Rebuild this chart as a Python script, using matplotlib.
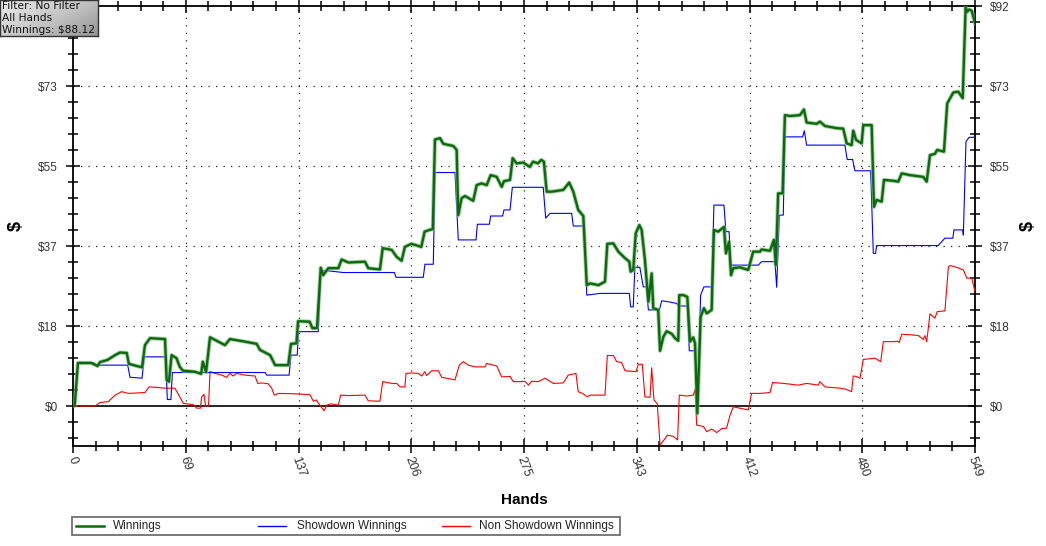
import matplotlib
matplotlib.use('Agg')
import matplotlib.pyplot as plt
import numpy as np
from matplotlib.ticker import FixedLocator
from matplotlib.lines import Line2D
from matplotlib.patches import Rectangle

# (hand, $)
winnings = [
    (0, 0), (1, 0), (3, 9.9), (11, 9.9), (15, 9.2), (16.5, 10.1), (21, 10.6), (25.6, 11.7),
    (28.6, 12.3), (32.7, 12.2), (34, 9.7), (38.8, 9.2), (42, 8.9), (43.8, 14), (46.9, 15.6),
    (56, 15.4), (57, 6), (58.4, 5.6), (60, 11.7), (63, 11), (65, 9), (67, 8.1), (74, 7.9),
    (78, 7.4), (79, 10.2), (81, 7.8), (83.4, 15.8), (86.4, 15.2), (92.5, 14), (95.5, 15.4),
    (98.6, 15.2), (104.7, 14.8), (111.8, 14.3), (113.8, 12.9), (120, 11.7), (123, 9.4),
    (131, 9.4), (132.7, 14.3), (136, 14.4), (137, 19.5), (144, 19.4), (145.7, 17.9),
    (148.5, 17.9), (150.8, 31.8), (152.3, 30.1), (155.4, 31.7), (161.5, 31.7), (163.5, 33.7),
    (167.6, 33), (177.7, 33.2), (179.7, 31.7), (186.8, 31.4), (188.5, 36.3), (194, 35.9),
    (197, 34.3), (200, 33.4), (202, 36.6), (206, 37.3), (212, 36.6), (214, 40.1), (217, 40.5),
    (219, 40.7), (220.3, 61.3), (223.4, 61.6), (225.4, 60.3), (231.5, 59.8), (233.5, 58.9),
    (234.5, 43.9), (236.5, 47.8), (238.6, 48.3), (243.6, 47.2), (245.7, 50.8), (248.7, 51.2),
    (251.8, 50.8), (254.2, 53.1), (257.9, 52.7), (260.9, 50.4), (262.3, 51.7), (266, 52),
    (267.6, 57), (270, 55.8), (274, 56), (278, 55), (280, 56.2), (283, 55.8), (285, 56.6),
    (286.6, 56.2), (288.3, 49.3), (291.3, 49.3), (298.4, 49.7), (302, 51.4), (304.5, 49.3),
    (307.5, 45.1), (310.6, 43.7), (312.7, 27.8), (314.7, 28.2), (319.8, 27.8), (323.8, 28.6),
    (325.2, 37.3), (328.9, 37.4), (331.9, 35.5), (336, 34), (338.6, 33.2), (339.4, 30.9),
    (341, 31.3), (342.5, 39.7), (344.7, 41.6), (346.1, 40.5), (348.1, 33.6), (350.2, 24),
    (352.2, 30.5), (353.2, 22.5), (356.2, 22.1), (357.3, 12.7), (359.3, 15.9), (361.3, 17.2),
    (364.4, 16.6), (366.4, 15.6), (368.4, 15), (369, 25.5), (371.5, 25.5), (373.9, 25.1),
    (375.5, 14.8), (377.5, 15.8), (378.6, 14.4), (380, -1.7), (382, 20.5), (384, 22.5),
    (385.7, 21.3), (388.7, 22.1), (390.1, 40.5), (392.7, 40.1), (396.2, 41.2), (397.4, 35.1),
    (399.3, 37.8), (400.5, 30.1), (401.9, 31.7), (405.9, 31.9), (411, 31.3), (414, 35.5),
    (418.1, 35.5), (419.1, 36), (424.2, 35.7), (426.6, 38.2), (427.8, 32.4), (429.2, 48.9),
    (431.9, 48.9), (433.3, 66.9), (436.4, 66.7), (442.5, 66.9), (444.9, 68.2), (446.5, 65.2),
    (452.6, 64.9), (454.6, 65.4), (457.7, 64.4), (464.8, 63.9), (468.8, 63.8), (470.9, 60.4),
    (473.9, 60), (474.9, 63.3), (476.6, 61.2), (480, 60.4), (481, 64.6), (486.1, 64.6),
    (487.5, 45.8), (489.1, 47.4), (492.2, 47), (493.6, 52), (499.3, 51.8), (502.3, 51.6),
    (504.4, 53.5), (509.4, 53.1), (517.5, 52.7), (519.6, 51.6), (521.6, 57.7), (524.6, 58),
    (526, 58.9), (530.1, 58.5), (532.1, 69.6), (535.8, 72.1), (538.8, 72.3), (541.5, 70.8),
    (543.3, 91.7), (544.3, 90.7), (545.5, 91.2), (547, 90.9), (549, 88.1),
]

showdown = [
    (0, 0), (1, 0), (3, 10), (12, 10), (15, 9.4), (33.3, 9.4), (34.7, 6.6), (42, 6.4),
    (43.4, 11.3), (56.4, 11.3), (57.4, 1.5), (59.6, 1.5), (60.5, 7.7), (116.9, 7.7),
    (117.9, 7.1), (131.5, 7.1), (132.7, 11.7), (136.5, 11.7), (137.2, 17.1), (149.3, 17.1),
    (150.8, 31.1), (155, 31.1), (164.5, 30.7), (195.6, 30.7), (196.6, 29.6), (213.2, 29.6),
    (214.2, 32.6), (219.3, 32.6), (220.3, 53.7), (232.5, 53.7), (234.5, 38.2), (245.3, 38.2),
    (246.1, 41.8), (253.4, 41.8), (254.2, 43.7), (261.5, 43.7), (262.3, 45.1), (266, 45.1),
    (267.4, 50.3), (286.2, 50.3), (287.7, 43.2), (290.3, 44.3), (303.5, 44.3), (304.5, 41.4),
    (311.2, 41.4), (312.7, 25.5), (320.8, 25.9), (338.6, 25.9), (339.4, 22.8), (341, 22.8),
    (342, 31.9), (345, 31.9), (347.1, 27.4), (349, 27.4), (350.2, 22.1), (356.9, 22.1),
    (358.3, 24.2), (362, 24), (367.4, 23.6), (368.4, 23), (373.9, 23), (375.1, 12.7),
    (378.6, 12.7), (380, -0.9), (382, 25.5), (384, 27.4), (388.7, 27.4), (390.1, 46.2),
    (396.2, 46.2), (397.4, 40.1), (399.3, 40.1), (400.5, 32.4), (417.1, 32.4), (419.1, 33.2),
    (427.2, 33.2), (428.3, 27.3), (429.9, 43.9), (432.3, 43.9), (433.3, 61.9), (444.1, 61.9),
    (445.1, 63.3), (446.5, 60), (469.8, 60), (471.2, 56.7), (474.5, 56.7), (475.9, 54.1),
    (485.5, 54.1), (487.1, 35.1), (488.5, 35.1), (489.1, 36.9), (526.6, 36.9), (530.7, 38.6),
    (535.5, 38.6), (536.2, 40.5), (541.5, 40.5), (541.9, 39.3), (543.5, 60.8), (545.4, 61.8),
    (549, 61.8),
]

non_showdown = [
    (0, 0), (13.4, 0), (16.4, 0.8), (21.5, 1), (25.6, 2.5), (29.6, 3.3), (33.7, 2.9),
    (43.8, 3.1), (46.3, 4.4), (50, 4.3), (56, 4.1), (62, 4.1), (65, 2.1), (67.1, 0.6),
    (73.2, 0.3), (75.3, -0.5), (77.5, -0.5), (78.3, 2.1), (79.7, 2.7), (80.7, 0), (82.5, 0),
    (83.4, 7.9), (85.4, 7.6), (90.5, 7.1), (93.5, 6.6), (95.5, 7.5), (97.5, 6.9), (99.5, 7.5),
    (104.7, 7.1), (110.8, 6.9), (112.4, 5.2), (115, 5.3), (118.9, 5.1), (120.9, 4.1),
    (122.5, 2.5), (125, 2.9), (135.1, 2.8), (144.2, 2.6), (146.3, 1.1), (148, 1.4),
    (149.5, 0.6), (152.8, -1.1), (154.4, 0.2), (157, 0.5), (161.5, 0.2), (162.9, 2.5),
    (168, 2.4), (177.7, 2.5), (179.7, 1.2), (186.8, 1.1), (188.5, 5.6), (194, 5.2),
    (197, 5.2), (199, 4.4), (202, 4.4), (202.7, 7.5), (206, 7.6), (210.2, 7.5), (212.2, 6.9),
    (214.2, 7.9), (215.2, 7), (218.3, 8.1), (222.4, 8.1), (224.4, 6.6), (232.5, 6),
    (235.1, 9.4), (237.5, 10.2), (240.5, 9.4), (244.7, 9), (250.8, 9), (251.8, 9.8),
    (257.9, 9.2), (260.9, 6.7), (266, 6.8), (268, 5.6), (272, 5.6), (275, 5.7), (277.2, 4.8),
    (279.2, 5.7), (283.2, 5.6), (287.3, 6.4), (292.3, 5.2), (298.4, 5.3), (301.4, 7.1),
    (306.1, 7.5), (307.5, 3.3), (310.5, 2.8), (313, 2.1), (314.7, 2.5), (323.8, 2.5),
    (325.2, 11.6), (328.9, 11.6), (330.9, 10.2), (333.9, 10), (336, 8.1), (342.7, 7.9),
    (344.1, 9.6), (346.5, 9.6), (348.1, 2.1), (351.2, 2), (352.2, 8.8), (353.6, 1.4),
    (355.6, 0.5), (357.3, -9), (360.3, -7.5), (361.7, -6.7), (365.4, -7), (368, -7.8),
    (369, 2.5), (373.5, 2.3), (377.5, 2.5), (378.6, 3.8), (379.6, -4.4), (383.7, -4.7),
    (385.7, -5.9), (388.7, -5.3), (391.8, -6.1), (394.8, -5.2), (397.8, -5.1), (399.9, -2.1),
    (401.9, -0.2), (405.9, -0.5), (411, -0.9), (413, 2.9), (418.1, 2.9), (424.2, 3.1),
    (425.8, 5.4), (432.3, 5.2), (441.4, 4.8), (446.5, 5.2), (453.6, 4.8), (454.6, 5.6),
    (457.7, 4.4), (466.8, 4.1), (470, 3.9), (473.9, 3.3), (474.9, 6.9), (476.6, 6.8),
    (479, 6.4), (481, 10.7), (488.1, 11), (491.6, 10.2), (493.2, 14.8), (499.3, 14.8),
    (502, 14.9), (502.9, 14.6), (504.4, 16.5), (509.4, 16.4), (514.5, 16.2), (517.5, 15.3),
    (518.5, 16.2), (519.6, 14.8), (521.6, 21.2), (524.6, 20.2), (526, 21.7), (530.7, 21.9),
    (532.8, 32), (533.8, 32.3), (537, 32), (541.9, 31.3), (544, 29.4), (547, 29.4), (549, 26.3),
]

x_ticks = [0, 68.625, 137.25, 205.875, 274.5, 343.125, 411.75, 480.375, 549]
x_labels = ['0', '69', '137', '206', '275', '343', '412', '480', '549']
y_ticks = [0, 18.4, 36.8, 55.2, 73.6, 92]
y_labels = ['$0', '$18', '$37', '$55', '$73', '$92']
legend_labels = ['Winnings', 'Showdown Winnings', 'Non Showdown Winnings']
colors = ['#0b6b0b', '#0000ff', '#ff0000']
info_lines = ['Filter: No Filter', 'All Hands', 'Winnings: $88.12']

W, H = 1046, 546
fig = plt.figure(figsize=(W / 100, H / 100), dpi=100)
ax = fig.add_axes([73 / W, 100 / H, 902 / W, 440 / H])

wx, wy = zip(*winnings)
sx, sy = zip(*showdown)
nx, ny = zip(*non_showdown)

ax.axhline(0, color='black', lw=1.2, zorder=2)
ax.plot(nx, ny, color=colors[2], lw=0.8, zorder=3)
ax.plot(sx, sy, color=colors[1], lw=0.8, zorder=3)
ax.plot(wx, wy, color='#86b886', lw=3.0, alpha=0.7, zorder=4, solid_joinstyle='round')
ax.plot(wx, wy, color=colors[0], lw=1.7, zorder=5, solid_joinstyle='round')

ax.set_xlim(0, 549)
ax.set_ylim(-9.2, 92)

minor_x = [t / 5 * 68.625 for t in range(41) if t % 5]
minor_y = [-7.36, -3.68] + [t / 5 * 18.4 for t in range(26) if t % 5]
ax.xaxis.set_major_locator(FixedLocator(x_ticks))
ax.xaxis.set_minor_locator(FixedLocator(minor_x))
ax.yaxis.set_major_locator(FixedLocator(y_ticks))
ax.yaxis.set_minor_locator(FixedLocator(minor_y))
ax.set_xticklabels(x_labels, rotation=-70, ha='center', va='top')
ax.set_yticklabels(y_labels)

ax.tick_params(which='both', direction='inout', top=True, right=True,
               labelright=True, colors='black', labelcolor='#333333', labelsize=8.5,
               width=1.1)
ax.tick_params(which='major', length=10)
ax.tick_params(which='minor', length=6.5)
ax.tick_params(axis='y', pad=6)
ax.tick_params(axis='x', pad=1.5, labelsize=9)
for lab in ax.get_xticklabels() + ax.get_yticklabels():
    lab.set_family('Liberation Sans')
# the left $92 label sits under the info box in the reference
ax.yaxis.get_major_ticks()[-1].label1.set_visible(False)

for s in ax.spines.values():
    s.set_linewidth(1.3)

for t in x_ticks[1:-1]:
    ax.axvline(t, color='#222222', lw=0.9, ls=(0, (1, 5)), zorder=1)
for t in y_ticks[1:-1]:
    ax.axhline(t, color='#222222', lw=0.9, ls=(0, (1, 5)), zorder=1)

ax.set_xlabel('Hands', fontsize=11, fontweight='bold', family='Liberation Sans', labelpad=10)
fig.text(16 / W, 1 - 226 / H, '$', rotation=90, fontsize=13, fontweight='bold',
         ha='center', va='center', family='Liberation Sans')
fig.text(1028 / W, 1 - 226 / H, '$', rotation=90, fontsize=13, fontweight='bold',
         ha='center', va='center', family='Liberation Sans')

# legend box along the bottom
fig.add_artist(Rectangle((72 / W, 1 - 535 / H), 548 / W, 18 / H, transform=fig.transFigure,
                         facecolor='white', edgecolor='#707070', lw=1.3))
ly = 1 - 526 / H
for (x0, x1, xt), lab, c in zip([(76, 104, 113), (258, 286, 297), (442, 470, 479)],
                                legend_labels, colors):
    fig.add_artist(Line2D([x0 / W, x1 / W], [ly, ly], transform=fig.transFigure,
                          color=c, lw=1.8 if c == colors[0] else 1.0))
    fig.text(xt / W, ly, lab, fontsize=8.5, color='#222222', va='center', ha='left',
             family='Liberation Sans')

# info box in the corner
bx = fig.add_axes([0, 1 - 36 / H, 98 / W, 36 / H])
grad = np.linspace(0, 1, 64)
g = 0.6 * grad[None, :] + 0.4 * grad[:, None]
bx.imshow(g, cmap='Greys', vmin=-0.45, vmax=2.4, aspect='auto', extent=(0, 1, 0, 1))
bx.set_xticks([])
bx.set_yticks([])
for s in bx.spines.values():
    s.set_linewidth(1.0)
    s.set_color('#333333')
for i, line in enumerate(info_lines):
    bx.text(0.02, 0.84 - i * 0.33, line, transform=bx.transAxes, fontsize=7.7,
            va='center', ha='left', color='#111111')

fig.savefig('out.png', dpi=100)
